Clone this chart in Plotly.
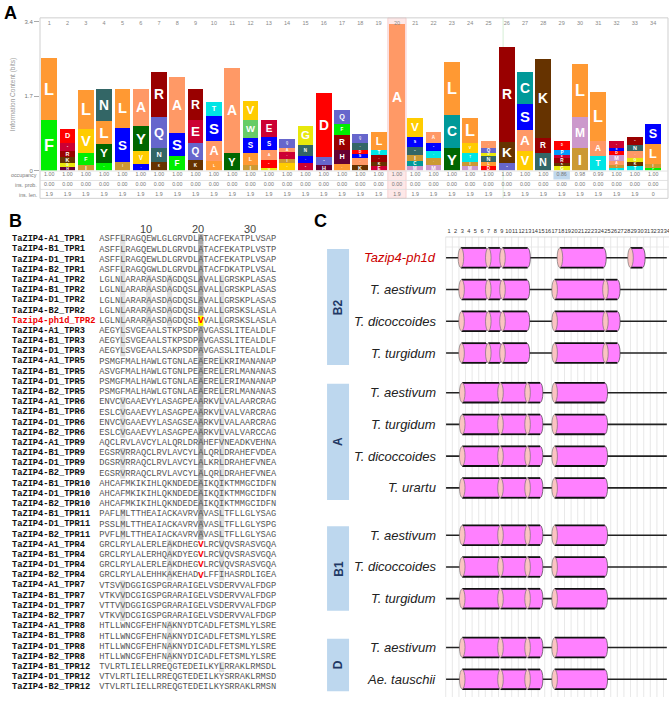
import plotly.graph_objects as go

W, H = 669, 708
def px(x): return x / W
def py(y): return 1 - y / H

# ---------------- Panel A data (HMM logo) ----------------
LOGO_POS = list(range(1, 35))
LOGO_LETTERS = ["FL", "HGKRED", "IFVL", "FYLN", "ISL", "SVYA", "KNQR", "FSA", "KQER", "LAST",
                "YA", "ILSWV", "GDASE", "VIEAQ", "ESNG", "HQD", "LHRFQ", "KASDNQ", "EKRTL", "A",
                "MCINSV", "MITSA", "YCL", "MITVL", "DLNGQA", "QKR", "VASC", "NRK", "GKREPD", "IML",
                "TAL", "TIAMDSE", "TKGANR", "FILS"]
LOGO_HEIGHTS = [
    [1.16, 1.42], [0.08, 0.09, 0.15, 0.13, 0.18, 0.32], [0.14, 0.26, 0.55, 0.89],
    [0.17, 0.43, 0.53, 0.73], [0.21, 0.77, 0.88], [0.15, 0.29, 0.59, 0.83],
    [0.21, 0.30, 0.72, 1.02], [0.33, 0.53, 1.29], [0.25, 0.38, 0.53, 0.70],
    [0.23, 0.44, 0.57, 0.33], [0.40, 1.95], [0.14, 0.27, 0.34, 0.42, 0.42],
    [0.06, 0.19, 0.23, 0.30, 0.38], [0.17, 0.10, 0.15, 0.11, 0.19], [0.17, 0.17, 0.24, 0.44],
    [0.12, 0.20, 1.45], [0.16, 0.32, 0.34, 0.25, 0.32], [0.14, 0.15, 0.09, 0.10, 0.15, 0.20],
    [0.10, 0.11, 0.14, 0.13, 0.41], [3.35], [0.10, 0.13, 0.12, 0.20, 0.23, 0.43],
    [0.14, 0.15, 0.15, 0.19, 0.25], [0.52, 0.76, 1.21], [0.10, 0.11, 0.19, 0.23, 0.57],
    [0.10, 0.10, 0.13, 0.08, 0.11, 0.15], [0.17, 0.49, 2.16], [0.45, 0.48, 0.60, 0.72],
    [0.40, 0.34, 1.82], [0.10, 0.08, 0.10, 0.09, 0.11, 0.19], [0.53, 0.70, 1.21],
    [0.33, 0.34, 1.12], [0.06, 0.08, 0.09, 0.12, 0.10, 0.08, 0.14],
    [0.10, 0.10, 0.09, 0.15, 0.15, 0.19], [0.06, 0.10, 0.45, 0.45]]
OCCUPANCY = ["1.00"] * 28 + ["0.86", "0.98", "0.99", "1.00", "1.00", "1.00"]
INS_PROB = ["0.00"] * 34
INS_LEN = ["1.9"] * 33 + ["0"]
ROW_LABELS = ["occupancy", "ins. prob.", "ins. len."]

AA_COLORS = {'A': '#FF9966', 'C': '#009999', 'D': '#FF0000', 'E': '#CC0033', 'F': '#00EE00',
             'G': '#E8E80C', 'H': '#660033', 'I': '#CC9933', 'K': '#663300', 'L': '#FF9933',
             'M': '#CC99CC', 'N': '#336666', 'P': '#0099FF', 'Q': '#6666CC', 'R': '#990000',
             'S': '#0000FF', 'T': '#00E5E5', 'V': '#FFCC00', 'W': '#66CC66', 'Y': '#006600'}

# ---------------- Panel B data (alignment) ----------------
SEQ_NAMES = ["TaZIP4-A1_TPR1", "TaZIP4-B1_TPR1", "TaZIP4-D1_TPR1", "TaZIP4-B2_TPR1",
             "TaZIP4-A1_TPR2", "TaZIP4-B1_TPR2", "TaZIP4-D1_TPR2", "TaZIP4-B2_TPR2", "Tazip4-ph1d_TPR2",
             "TaZIP4-A1_TPR3", "TaZIP4-B1_TPR3", "TaZIP4-D1_TPR3",
             "TaZIP4-A1_TPR5", "TaZIP4-B1_TPR5", "TaZIP4-D1_TPR5", "TaZIP4-B2_TPR5",
             "TaZIP4-A1_TPR6", "TaZIP4-B1_TPR6", "TaZIP4-D1_TPR6", "TaZIP4-B2_TPR6",
             "TaZIP4-A1_TPR9", "TaZIP4-B1_TPR9", "TaZIP4-D1_TPR9", "TaZIP4-B2_TPR9",
             "TaZIP4-B1_TPR10", "TaZIP4-D1_TPR10", "TaZIP4-B2_TPR10",
             "TaZIP4-B1_TPR11", "TaZIP4-D1_TPR11", "TaZIP4-B2_TPR11",
             "TaZIP4-A1_TPR4", "TaZIP4-B1_TPR4", "TaZIP4-D1_TPR4", "TaZIP4-B2_TPR4",
             "TaZIP4-A1_TPR7", "TaZIP4-B1_TPR7", "TaZIP4-D1_TPR7", "TaZIP4-B2_TPR7",
             "TaZIP4-A1_TPR8", "TaZIP4-B1_TPR8", "TaZIP4-D1_TPR8", "TaZIP4-B2_TPR8",
             "TaZIP4-B1_TPR12", "TaZIP4-D1_TPR12", "TaZIP4-B2_TPR12"]
SEQUENCES = ["ASFFLRAGQEWLGLGRVDLATACFEKATPLVSAP", "ASFFLRAGQEWLDLGRVDLATACFEKATPLVSTP",
             "ASFFLRAGQEWLDLGRVDLATACFEKATPLVSAP", "ASFFLRAGQGWLDLGRVDLATACFDKATPLVSAL",
             "LGLNLARARAASDAGDQSLAVALLGRSKPLASAS", "LGLNLARARAASDAGDQSLAVALLGRSKPLASAS",
             "LGLNLARARAASDAGDQSLAVALLGRSKPLASAS", "LGLNLARARAASDAGDQSLAVALLGRSKSLASLA",
             "LGLNLARARAASDAGDQSLVVALLGRSKSLASLA",
             "AEGYLSVGEAALSTKPSDPAVGASSLITEALDLF", "AEGYLSVGEAALSTKPSDPAVGASSLITEALDLF",
             "AEGYLSVGEAALSAKPSDPAVGASSLITEALDLF",
             "PSMGFMALHAWLGTGNLAEAERELKRIMANANAP", "ASVGFMALHAWLGTGNLPEAERELERLMANANAS",
             "PSMGFMALHAWLGTGNLAEAERELERIMANANAP", "PSMGFMALHAWLGTGNLAEAERELERLMANANAS",
             "ENVCVGAAEVYLASAGPEAARKVLVALAARCRAG", "ESLCVGAAEVYLASAGPEAARKVLVALVARCRAG",
             "ENVCVGAAEVYLASAGSEAARKVLVALAARCRAG", "ESLCVGAAEVYLASAGPEAARKVLVALVARCCAG",
             "AQCLRVLAVCYLALQRLDRAHEFVNEADKVEHNA", "EGSRVRRAQCLRVLAVCYLALQRLDRAHEFVDEA",
             "DGSRVRRAQCLRVLAVCYLALKRLDRAHEFVNEA", "EGSRVRRAQCLRVLAVCYLALQRLDRAHEFVNEA",
             "AHCAFMKIKIHLQKNDEDEAIKQIKTMMGCIDFN", "AHCAFMKIKIHLQKNDEDEAIKQIKTMMGCIDFN",
             "AHCAFMKIKIHLQKNDEDEAIKQIKTMMGCIDFN",
             "PAFLMLTTHEAIACKAVRVAVASLTFLLGLYSAG", "PSSLMLTTHEAIACKAVRVAVASLTFLLGLYSPG",
             "PVFLMLTTHEAIACKAVRVAVASLTFLLGLYSAG",
             "GRCLRYLALERLEAKDHEGVLRCVQVSRASVGQA", "GRCLRYLALERHQAKDYEGVLRCVQVSRASVGQA",
             "GRCLRYLALERLEAKDHEGVLRCVQVSRASVGQA", "GRCLRYLALEHHKAKEHADVLFFIHASRDLIGEA",
             "VTSVVDGGIGSPGRARAIGELVSDERVVALFDGP", "VTKVVDCGIGSPGRARAIGELVSDERVVALFDGP",
             "VTTVVDGGIGSPGRARAIGELVSDERVVALFDGP", "VTKVVDCGIGSPGRARAIGELVSDERVVALFDGP",
             "HTLLWNCGFEHFNAKNYDTCADLFETSMLYLSRE", "HTLLWNCGFEHFNAKNYDICADLFETSMLYLSRE",
             "HTLLWNCGFEHFNAKNYDICADLFETSMLYLSRE", "HTLLWNCGFEHFNAKNYDICADLFETSMLYLSRE",
             "TVLRTLIELLRREQGTEDEILKYLRRAKLRMSDL", "VTVLRTLIELLRREQGTEDEILKYSRRAKLRMSD",
             "VTVLRTLIELLRREQGTEDEILKYSRRAKLRMSN"]
HEADER_COLS = [10, 20, 30]
# (first row, last row, light-shaded columns, dark-shaded columns)
SHADE_GROUPS = [(0, 3, [5], [20]), (4, 8, [5, 10, 14, 24], [20]), (9, 11, [5], [20]),
                (12, 15, [24], [20]), (16, 19, [5, 24], [20]), (20, 23, [5, 24], [20]),
                (24, 26, [24], [20]), (27, 29, [5, 24], [20]), (30, 33, [14, 24], []),
                (34, 37, [5], []), (38, 41, [14], []), (42, 42, [24], [])]
RED_MARKS = [(8, 20), (30, 20), (31, 20), (32, 20), (33, 20)]
MUTANT_ROW = 8

# ---------------- Panel C data (helix architecture) ----------------
C_GROUPS = ["B2", "A", "B1", "D"]
C_SPECIES = [["Tazip4-ph1d", "T. aestivum", "T. dicoccoides", "T. turgidum"],
             ["T. aestivum", "T. turgidum", "T. dicoccoides", "T. urartu"],
             ["T. aestivum", "T. dicoccoides", "T. turgidum"],
             ["T. aestivum", "Ae. tauschii"]]
HX_B2 = [(2.9, 6.6), (6.95, 8.7), (9.1, 12.8), (17.0, 24.5), (24.7, 26.5)]
HX_PH1D = [(2.8, 6.6), (6.95, 8.7), (9.1, 12.9), (17.8, 24.4), (28.5, 30.3)]
HX_STD = [(3.0, 8.6), (8.8, 12.7), (12.9, 14.8), (17.0, 24.6)]
C_HELICES = [[HX_PH1D, HX_B2, HX_B2, HX_B2],
             [HX_STD, HX_STD, HX_STD, HX_STD],
             [HX_STD, HX_STD, HX_STD],
             [HX_STD, HX_STD]]
GROUP_GAPS = [0.0, 0.25, 0.49, 0.54]

fig = go.Figure()
shapes, annos = [], []

# ================= Panel A =================
nlayers = max(len(s) for s in LOGO_LETTERS)
for k in range(nlayers):
    xs, hs, cols, txt = [], [], [], []
    for p, letters, hts in zip(LOGO_POS, LOGO_LETTERS, LOGO_HEIGHTS):
        if k < len(letters):
            xs.append(p); hs.append(hts[k]); cols.append(AA_COLORS[letters[k]]); txt.append(letters[k])
    fig.add_trace(go.Bar(x=xs, y=hs, width=0.86, marker=dict(color=cols, line=dict(width=0)),
                         text=txt, textposition="inside", insidetextanchor="middle", textangle=0,
                         textfont=dict(color="white", size=40, family="Liberation Sans", weight="bold"),
                         xaxis="x", yaxis="y", hoverinfo="skip", showlegend=False))
# column numbers at top
fig.add_trace(go.Scatter(x=LOGO_POS, y=[3.36] * 34, mode="text", text=[str(p) for p in LOGO_POS],
                         textfont=dict(size=5.5, color="#888"), xaxis="x", yaxis="y",
                         cliponaxis=False, hoverinfo="skip", showlegend=False))
# occupancy / insert rows
for k, vals in enumerate([OCCUPANCY, INS_PROB, INS_LEN]):
    fig.add_trace(go.Scatter(x=LOGO_POS, y=[k + 0.45] * 34, mode="text", text=vals,
                             textfont=dict(size=5.3, color="#777"), xaxis="x", yaxis="y2",
                             cliponaxis=False, hoverinfo="skip", showlegend=False))
    annos.append(dict(x=px(39), y=k + 0.45, xref="paper", yref="y2", text=ROW_LABELS[k],
                      xanchor="right", yanchor="middle", showarrow=False,
                      font=dict(size=5.3, color="#777")))
# highlight column 20 and occupancy 29
shapes.append(dict(type="rect", xref="x", yref="paper", x0=19.5, x1=20.5, y0=py(197), y1=py(15),
                   fillcolor="rgba(250,190,190,0.35)", line=dict(color="rgba(235,150,150,0.6)", width=0.6),
                   layer="below"))
shapes.append(dict(type="rect", xref="x", yref="y2", x0=28.55, x1=29.45, y0=0.05, y1=0.9,
                   fillcolor="rgba(150,190,225,0.6)", line=dict(width=0), layer="below"))
shapes.append(dict(type="line", xref="x", yref="paper", x0=25.8, x1=25.8, y0=py(197), y1=py(15),
                   line=dict(color="rgba(120,200,120,0.45)", width=0.7), layer="below"))
# frame and separators
shapes.append(dict(type="rect", xref="paper", yref="paper", x0=px(40), x1=px(668), y0=py(197), y1=py(15),
                   line=dict(color="#cfcfcf", width=1)))
for yy in [169.5, 179, 188]:
    shapes.append(dict(type="line", xref="paper", yref="paper", x0=px(40), x1=px(668), y0=py(yy), y1=py(yy),
                       line=dict(color="#dcdcdc", width=0.8)))
annos.append(dict(x=px(13), y=py(93), xref="paper", yref="paper", text="Information Content (bits)",
                  xanchor="center", yanchor="middle", textangle=-90, showarrow=False,
                  font=dict(size=6.5, color="#999")))

# ================= Panel B =================
for (r0, r1, light, dark) in SHADE_GROUPS:
    for r in range(r0, r1 + 1):
        for c in light:
            if r == 20 and c == 5:
                continue
            shapes.append(dict(type="rect", xref="x3", yref="y3", x0=c - 0.5, x1=c + 0.5, y0=r - 0.5, y1=r + 0.5,
                               fillcolor="#dedede", line=dict(width=0), layer="below"))
        for c in dark:
            if r == MUTANT_ROW:
                continue
            shapes.append(dict(type="rect", xref="x3", yref="y3", x0=c - 0.5, x1=c + 0.5, y0=r - 0.5, y1=r + 0.5,
                               fillcolor="#a9a9a9", line=dict(width=0), layer="below"))
shapes.append(dict(type="rect", xref="x3", yref="y3", x0=19.5, x1=20.5, y0=MUTANT_ROW - 0.5, y1=MUTANT_ROW + 0.5,
                   fillcolor="#FFFF00", line=dict(width=0), layer="below"))

red_set = set(RED_MARKS)
sx, sy, st = [], [], []
rx, ry, rt = [], [], []
for r, seq in enumerate(SEQUENCES):
    for c, ch in enumerate(seq, start=1):
        if (r, c) in red_set:
            rx.append(c); ry.append(r); rt.append(ch)
        else:
            sx.append(c); sy.append(r); st.append(ch)
fig.add_trace(go.Scatter(x=sx, y=sy, mode="text", text=st,
                         textfont=dict(family="Liberation Mono", size=8.7, color="#555"),
                         xaxis="x3", yaxis="y3", hoverinfo="skip", showlegend=False))
fig.add_trace(go.Scatter(x=rx, y=ry, mode="text", text=rt,
                         textfont=dict(family="Liberation Mono", size=9.5, color="#FF0000", weight="bold"),
                         xaxis="x3", yaxis="y3", hoverinfo="skip", showlegend=False))
for r, name in enumerate(SEQ_NAMES):
    annos.append(dict(x=-16.5, y=r, xref="x3", yref="y3", text=name, xanchor="left", yanchor="middle",
                      showarrow=False, borderpad=0,
                      font=dict(family="Liberation Mono", size=8.7, weight="bold",
                                color="#EE0000" if r == MUTANT_ROW else "#111")))
for c in HEADER_COLS:
    annos.append(dict(x=c - 0.55, y=-1.03, xref="x3", yref="y3", text=str(c), showarrow=False,
                      xanchor="center", yanchor="middle", font=dict(size=11, color="#444")))

# ================= Panel C =================
NCOL = 34
for c in range(0, NCOL + 1):
    shapes.append(dict(type="line", xref="x4", yref="y4", x0=c + 0.5, x1=c + 0.5, y0=-0.656, y1=13.84,
                       line=dict(color="#e2e2e2", width=0.8), layer="below"))
shapes.append(dict(type="line", xref="x4", yref="y4", x0=0.5, x1=NCOL + 0.5, y0=-0.656, y1=-0.656,
                   line=dict(color="#d0d0d0", width=0.8), layer="below"))
shapes.append(dict(type="line", xref="x4", yref="y4", x0=0.5, x1=NCOL + 0.5, y0=-0.34, y1=-0.34,
                   line=dict(color="#e6e6e6", width=0.8), layer="below"))
fig.add_trace(go.Scatter(x=list(range(1, NCOL + 1)), y=[-0.84] * NCOL, mode="text",
                         text=[str(c) for c in range(1, NCOL + 1)],
                         textfont=dict(size=5.6, color="#333"), xaxis="x4", yaxis="y4",
                         cliponaxis=False, hoverinfo="skip", showlegend=False))

HH, EX = 0.31, 0.42
def helix(a, b, y):
    out = []
    out.append(dict(type="circle", xref="x4", yref="y4", x0=b - EX, x1=b + EX, y0=y - HH, y1=y + HH,
                    fillcolor="#FF80FF", line=dict(color="#444", width=0.7)))
    out.append(dict(type="rect", xref="x4", yref="y4", x0=a, x1=b, y0=y - HH, y1=y + HH,
                    fillcolor="#FF80FF", line=dict(width=0)))
    for yy in (y - HH, y + HH):
        out.append(dict(type="line", xref="x4", yref="y4", x0=a, x1=b, y0=yy, y1=yy,
                        line=dict(color="#111", width=1.8)))
    out.append(dict(type="circle", xref="x4", yref="y4", x0=a - EX, x1=a + EX, y0=y - HH, y1=y + HH,
                    fillcolor="#FBC3C3", line=dict(color="#666", width=0.6)))
    return out

r = 0.0
for gi, grp in enumerate(C_GROUPS):
    r += GROUP_GAPS[gi]
    first = r
    for si, sp in enumerate(C_SPECIES[gi]):
        y = r
        shapes.append(dict(type="line", xref="x4", yref="y4", x0=0.55, x1=34.0, y0=y, y1=y,
                           line=dict(color="#222", width=1.6)))
        for (a, b) in C_HELICES[gi][si]:
            shapes.extend(helix(a, b, y))
        annos.append(dict(x=-0.7, y=y, xref="x4", yref="y4", text=sp, xanchor="right", yanchor="middle",
                          showarrow=False,
                          font=dict(family="Liberation Sans", size=13, style="italic",
                                    color="#CC0000" if sp == "Tazip4-ph1d" else "#222")))
        r += 1
    last = r - 1
    shapes.append(dict(type="rect", xref="x4", yref="y4", x0=-17.48, x1=-14.15, y0=first - 0.28, y1=last + 0.38,
                       fillcolor="#BDD7EE", line=dict(width=0), layer="below"))
    annos.append(dict(x=-15.8, y=(first - 0.28 + last + 0.38) / 2, xref="x4", yref="y4", text="<b>%s</b>" % grp,
                      xanchor="center", yanchor="middle",
                      textangle=-90, showarrow=False, font=dict(size=12, color="#1F3864")))

# panel labels
for lab, x, y in [("A", 10, 10), ("B", 15, 220), ("C", 320, 220)]:
    annos.append(dict(x=px(x), y=py(y), xref="paper", yref="paper", text="<b>%s</b>" % lab,
                      xanchor="center", yanchor="middle",
                      showarrow=False, font=dict(size=18, color="#000")))

fig.update_layout(
    width=W, height=H, margin=dict(l=0, r=0, t=0, b=0),
    paper_bgcolor="white", plot_bgcolor="rgba(0,0,0,0)",
    font=dict(family="Liberation Sans"),
    barmode="stack", bargap=0, showlegend=False,
    xaxis=dict(domain=[px(40), px(668)], range=[0.497, 34.81], visible=False, anchor="y"),
    yaxis=dict(domain=[py(169), py(19)], range=[0, 3.4], tickvals=[0, 1.7, 3.4], ticktext=["0", "1.7", "3.4"],
               ticks="outside", ticklen=5, tickcolor="#aaa", tickfont=dict(size=6, color="#777"),
               showgrid=False, zeroline=False, showline=False, anchor="x"),
    yaxis2=dict(domain=[py(197), py(169)], range=[2.8, 0], visible=False, anchor="x"),
    xaxis3=dict(domain=[0, px(310)], range=[-18.6, 41.0], visible=False, anchor="y3"),
    yaxis3=dict(domain=[py(700), py(215)], range=[44.96, -2.27], visible=False, anchor="x3"),
    xaxis4=dict(domain=[px(300), 1], range=[-21.58, 34.33], visible=False, anchor="y4"),
    yaxis4=dict(domain=[py(700), py(224)], range=[13.84, -1.03], visible=False, anchor="x4"),
    shapes=shapes, annotations=annos,
)
fig.write_html("out.html", config={"displayModeBar": False},
               post_script="document.body.style.margin='0px';document.body.style.padding='0px';"
                           "document.body.style.overflow='hidden';")
